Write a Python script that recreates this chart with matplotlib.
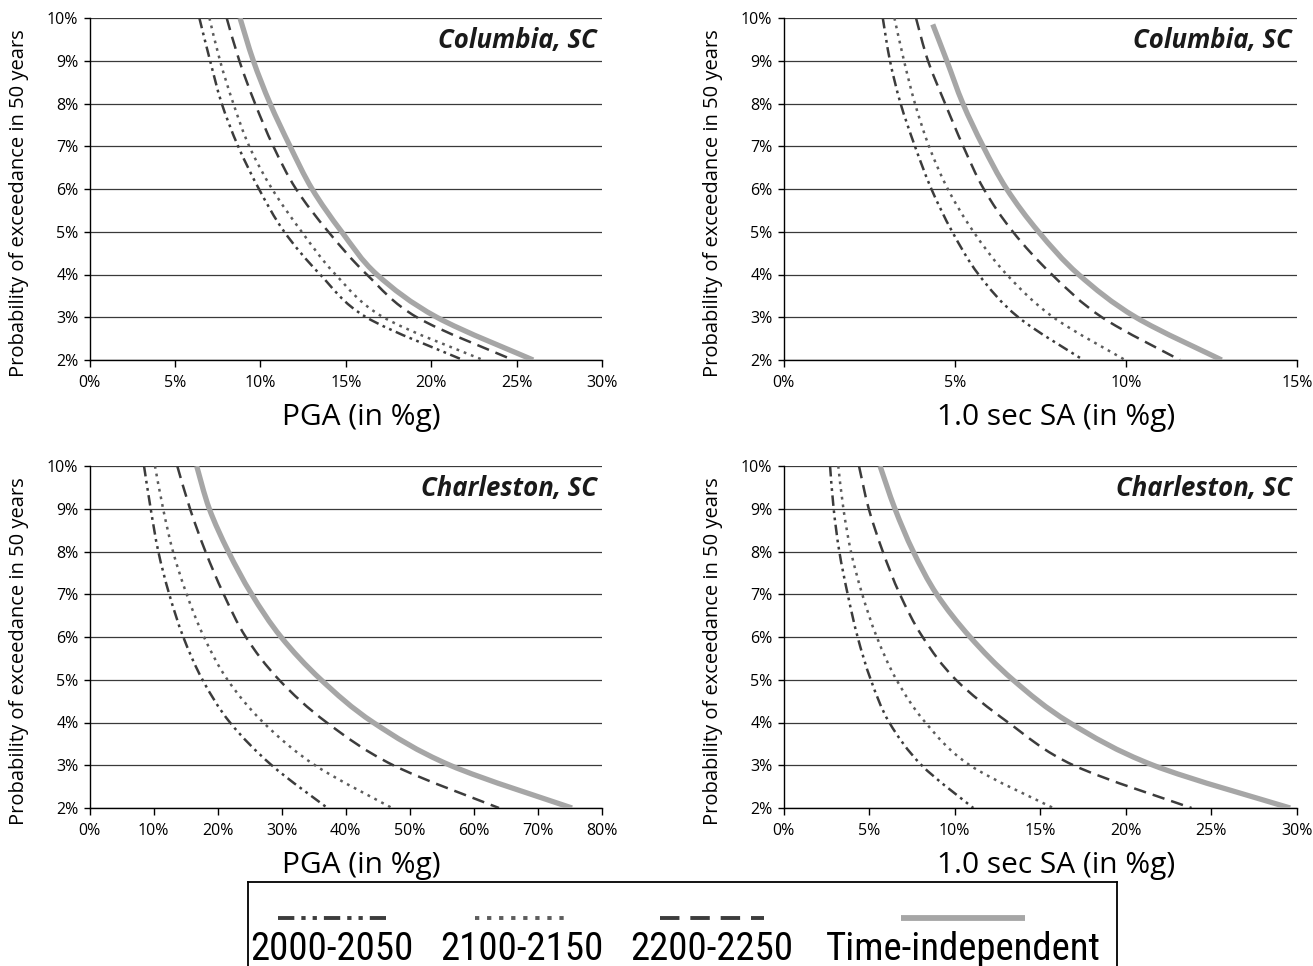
import matplotlib

matplotlib.use("Agg")
import matplotlib.pyplot as plt
from matplotlib import font_manager
from matplotlib.path import Path
from matplotlib.patches import PathPatch

# probability of exceedance in 50 years (%)
PROB = [10, 9, 8, 7, 6, 5, 4, 3, 2]
PROB_COL_SA_TI = [9.85, 9, 8, 7, 6, 5, 4, 3, 2]

# Columbia, PGA (%g)
COL_PGA_2000 = [6.43, 7.06, 7.74, 8.7, 9.92, 11.4, 13.5, 16.2, 21.87]
COL_PGA_2100 = [7.02, 7.64, 8.42, 9.35, 10.69, 12.42, 14.4, 17.2, 23.04]
COL_PGA_2200 = [8.03, 8.77, 9.69, 10.76, 12.09, 13.98, 16.23, 19.16, 24.8]
COL_PGA_TI = [8.81, 9.59, 10.57, 11.74, 13.03, 14.76, 16.82, 20.33, 25.97]

# Columbia, 1.0 sec SA (%g)
COL_SA_2000 = [2.9, 3.11, 3.42, 3.84, 4.32, 4.93, 5.7, 6.86, 8.76]
COL_SA_2100 = [3.24, 3.52, 3.84, 4.25, 4.8, 5.55, 6.52, 7.88, 9.98]
COL_SA_2200 = [3.87, 4.22, 4.72, 5.25, 5.85, 6.7, 7.84, 9.3, 11.58]
COL_SA_TI = [4.36, 4.77, 5.24, 5.83, 6.52, 7.45, 8.62, 10.29, 12.8]

# Charleston, PGA (%g)
CHS_PGA_2000 = [8.51, 9.55, 10.74, 12.45, 14.64, 17.64, 21.93, 28.44, 37.15]
CHS_PGA_2100 = [10.22, 11.49, 13.03, 15.17, 17.87, 21.54, 27.13, 35.2, 47.22]
CHS_PGA_2200 = [13.7, 15.69, 18.1, 20.95, 24.4, 29.58, 37.03, 47.42, 63.92]
CHS_PGA_TI = [16.73, 18.7, 21.67, 25.32, 29.9, 36.14, 44.3, 56.28, 75.32]

# Charleston, 1.0 sec SA (%g)
CHS_SA_2000 = [2.72, 2.93, 3.26, 3.75, 4.33, 5.1, 6.18, 8.07, 11.09]
CHS_SA_2100 = [3.2, 3.5, 3.94, 4.6, 5.45, 6.6, 8.29, 10.89, 15.76]
CHS_SA_2200 = [4.41, 4.98, 5.8, 6.8, 8.13, 10.07, 13.13, 16.94, 23.84]
CHS_SA_TI = [5.64, 6.51, 7.58, 8.95, 10.9, 13.4, 16.7, 21.6, 29.6]

LABELS = ["2000-2050", "2100-2150", "2200-2250", "Time-independent"]

W, H = 1313, 966


def pick_family(candidates, italic=False, bold=False):
    for name in candidates:
        for f in font_manager.fontManager.ttflist:
            if f.name != name:
                continue
            if italic and f.style == "normal":
                continue
            weight = f.weight if isinstance(f.weight, int) else 700 if f.weight in ("bold", "semibold", "heavy", "black") else 400
            if bold and weight < 600:
                continue
            return name
    return "DejaVu Sans"


BASE_FONT = pick_family(["Open Sans", "Noto Sans", "Lato"])
TITLE_FONT = pick_family(["Open Sans", "Noto Sans", "Lato", "Liberation Sans"], italic=True, bold=True)
NARROW_FONT = pick_family(["Liberation Sans Narrow", "Roboto Condensed", "Liberation Sans"])

plt.rcParams["font.family"] = [BASE_FONT, "DejaVu Sans"]

STYLES = {
    "2000-2050": dict(color="#3c3c3c", ls=(0, (4.2, 1.8, 1.1, 1.8, 1.1, 1.8))),
    "2100-2150": dict(color="#5c5c5c", ls=(0, (1.1, 2.0))),
    "2200-2250": dict(color="#3c3c3c", ls=(0, (5.0, 2.8))),
    "Time-independent": dict(color="#a6a6a6", ls="-"),
}


def smooth_path(xs, ys):
    # Excel-style smoothed line: cubic Bezier segments through the data points
    pts = list(zip(xs, ys))
    verts = [pts[0]]
    codes = [Path.MOVETO]
    for i in range(len(pts) - 1):
        p0 = pts[i - 1] if i > 0 else pts[i]
        p1, p2 = pts[i], pts[i + 1]
        p3 = pts[i + 2] if i + 2 < len(pts) else pts[i + 1]
        c1 = (p1[0] + (p2[0] - p0[0]) / 6, p1[1] + (p2[1] - p0[1]) / 6)
        c2 = (p2[0] - (p3[0] - p1[0]) / 6, p2[1] - (p3[1] - p1[1]) / 6)
        verts += [c1, c2, p2]
        codes += [Path.CURVE4] * 3
    return Path(verts, codes)


def axes_px(left, top, right, bottom):
    return fig.add_axes([left / W, 1 - bottom / H, (right - left) / W, (bottom - top) / H])


fig = plt.figure(figsize=(W / 100, H / 100), dpi=100)

panels = [
    ((89.5, 18, 602, 360), 30, 5, "PGA (in %g)", "Columbia, SC",
     [(PROB, COL_PGA_2000), (PROB, COL_PGA_2100), (PROB, COL_PGA_2200), (PROB, COL_PGA_TI)]),
    ((783.5, 18, 1297, 360), 15, 5, "1.0 sec SA (in %g)", "Columbia, SC",
     [(PROB, COL_SA_2000), (PROB, COL_SA_2100), (PROB, COL_SA_2200), (PROB_COL_SA_TI, COL_SA_TI)]),
    ((89.5, 466, 602, 808), 80, 10, "PGA (in %g)", "Charleston, SC",
     [(PROB, CHS_PGA_2000), (PROB, CHS_PGA_2100), (PROB, CHS_PGA_2200), (PROB, CHS_PGA_TI)]),
    ((783.5, 466, 1297, 808), 30, 5, "1.0 sec SA (in %g)", "Charleston, SC",
     [(PROB, CHS_SA_2000), (PROB, CHS_SA_2100), (PROB, CHS_SA_2200), (PROB, CHS_SA_TI)]),
]

for box, xmax, xstep, xlabel, title, series in panels:
    ax = axes_px(*box)
    for label, (yy, xx) in zip(LABELS, series):
        st = STYLES[label]
        lw = 3.8 if label == "Time-independent" else 1.8
        ax.add_patch(PathPatch(smooth_path(xx, yy), fill=False, edgecolor=st["color"],
                               linestyle=st["ls"], linewidth=lw, capstyle="butt", zorder=3))
    ax.set_xlim(0, xmax)
    ax.set_ylim(2, 10)
    ax.set_xticks(range(0, xmax + 1, xstep))
    ax.set_xticklabels([f"{v}%" for v in range(0, xmax + 1, xstep)])
    ax.set_yticks(range(2, 11))
    ax.set_yticklabels([f"{v}%" for v in range(2, 11)])
    ax.grid(axis="y", color="#3a3a3a", linewidth=0.9)
    ax.set_axisbelow(True)
    for side in ("top", "right"):
        ax.spines[side].set_visible(False)
    for side in ("left", "bottom"):
        ax.spines[side].set_color("black")
        ax.spines[side].set_linewidth(1.0)
    ax.tick_params(direction="out", length=4, width=1, labelsize=11.5, colors="black")
    ax.tick_params(axis="x", length=5, pad=6)
    ax.tick_params(axis="y", pad=4)
    ax.set_xlabel(xlabel, fontsize=21.5)
    ax.xaxis.set_label_coords(0.53, -0.126)
    ax.set_ylabel("Probability of exceedance in 50 years", fontsize=14.5)
    ax.yaxis.set_label_coords(-0.118, 0.458)
    ax.text(0.99, 0.975, title, transform=ax.transAxes, ha="right", va="top",
            fontsize=18.5, fontweight="bold", fontstyle="italic", family=[TITLE_FONT, "DejaVu Sans"],
            color="#1a1a1a")

# legend box, bottom edge runs past the figure
lax = fig.add_axes([248 / W, -0.02, (1117 - 248) / W, 0.087 + 0.02])
lax.set_xlim(248, 1117)
lax.set_ylim(966 + 0.02 * H, 882)
lax.set_xticks([])
lax.set_yticks([])
for sp in lax.spines.values():
    sp.set_linewidth(1.3)
    sp.set_color("black")

legend_centers = [332, 522, 712, 963]
legend_halfwidths = [54, 47, 52, 62]
for label, cx, half in zip(LABELS, legend_centers, legend_halfwidths):
    st = STYLES[label]
    lw = 4.2 if label == "Time-independent" else 2.8
    lax.plot([cx - half, cx + half], [918, 918], color=st["color"], linestyle=st["ls"],
             linewidth=lw, solid_capstyle="butt", dash_capstyle="butt")
    lax.text(cx, 960, label, ha="center", va="baseline", fontsize=28,
             family=[NARROW_FONT, "DejaVu Sans"], color="black")

fig.savefig("out.png", dpi=100)
